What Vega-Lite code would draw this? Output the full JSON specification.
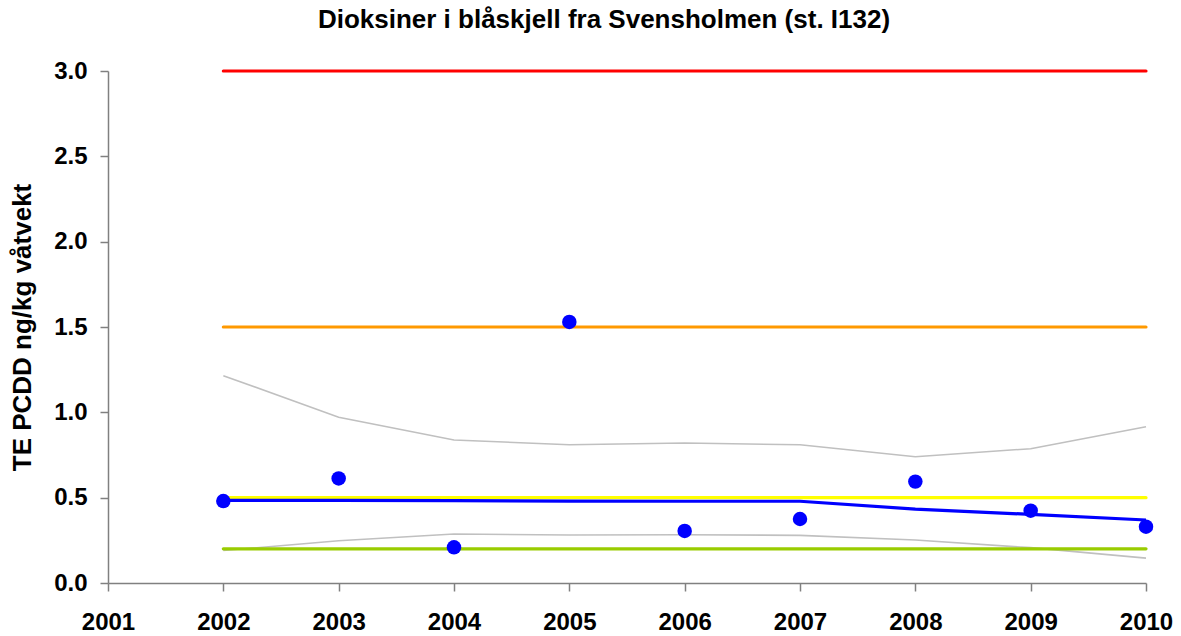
{
  "$schema": "https://vega.github.io/schema/vega-lite/v6.json",
  "autosize": "none",
  "width": 1038,
  "height": 512,
  "padding": {"left": 108, "top": 71, "right": 35, "bottom": 53},
  "background": "white",
  "config": {
    "view": {"stroke": null},
    "font": "Liberation Sans",
    "axis": {"grid": false, "domainColor": "#808080", "domainWidth": 1.5, "tickColor": "#808080", "tickWidth": 1.5, "tickSize": 8, "labelFont": "Liberation Sans", "labelFontWeight": "bold", "labelFontSize": 24, "labelColor": "#000000", "titleFont": "Liberation Sans", "titleFontWeight": "bold", "titleFontSize": 26, "titleColor": "#000000"}
  },
  "title": {
    "text": "Dioksiner i blåskjell fra Svensholmen (st. I132)",
    "font": "Liberation Sans",
    "fontSize": 26,
    "fontWeight": "bold",
    "color": "#000000",
    "anchor": "middle",
    "dx": -23,
    "offset": 26
  },
  "datasets": {
    "thresholds": [
      {"year": 2002, "value": 3.0, "class": "V"},
      {"year": 2010, "value": 3.0, "class": "V"},
      {"year": 2002, "value": 1.5, "class": "IV"},
      {"year": 2010, "value": 1.5, "class": "IV"},
      {"year": 2002, "value": 0.5, "class": "II"},
      {"year": 2010, "value": 0.5, "class": "II"},
      {"year": 2002, "value": 0.2, "class": "I"},
      {"year": 2010, "value": 0.2, "class": "I"}
    ],
    "bands": [
      {"year": 2002, "value": 1.215, "bound": "upper"},
      {"year": 2003, "value": 0.971, "bound": "upper"},
      {"year": 2004, "value": 0.838, "bound": "upper"},
      {"year": 2005, "value": 0.81, "bound": "upper"},
      {"year": 2006, "value": 0.82, "bound": "upper"},
      {"year": 2007, "value": 0.81, "bound": "upper"},
      {"year": 2008, "value": 0.74, "bound": "upper"},
      {"year": 2009, "value": 0.787, "bound": "upper"},
      {"year": 2010, "value": 0.916, "bound": "upper"},
      {"year": 2002, "value": 0.19, "bound": "lower"},
      {"year": 2003, "value": 0.248, "bound": "lower"},
      {"year": 2004, "value": 0.287, "bound": "lower"},
      {"year": 2005, "value": 0.281, "bound": "lower"},
      {"year": 2006, "value": 0.283, "bound": "lower"},
      {"year": 2007, "value": 0.279, "bound": "lower"},
      {"year": 2008, "value": 0.252, "bound": "lower"},
      {"year": 2009, "value": 0.207, "bound": "lower"},
      {"year": 2010, "value": 0.146, "bound": "lower"}
    ],
    "trend": [
      {"year": 2002, "value": 0.484},
      {"year": 2003, "value": 0.484},
      {"year": 2004, "value": 0.483},
      {"year": 2005, "value": 0.48},
      {"year": 2006, "value": 0.479},
      {"year": 2007, "value": 0.479},
      {"year": 2008, "value": 0.433},
      {"year": 2009, "value": 0.402},
      {"year": 2010, "value": 0.369}
    ],
    "points": [
      {"year": 2002, "value": 0.48},
      {"year": 2003, "value": 0.613},
      {"year": 2004, "value": 0.209},
      {"year": 2005, "value": 1.53},
      {"year": 2006, "value": 0.305},
      {"year": 2007, "value": 0.375},
      {"year": 2008, "value": 0.594},
      {"year": 2009, "value": 0.424},
      {"year": 2010, "value": 0.33}
    ]
  },
  "encoding": {
    "x": {
      "field": "year",
      "type": "quantitative",
      "scale": {"domain": [2001, 2010], "nice": false, "zero": false},
      "axis": {"values": [2001, 2002, 2003, 2004, 2005, 2006, 2007, 2008, 2009, 2010], "format": "d", "title": null, "labelPadding": 19, "labelFlush": false}
    },
    "y": {
      "field": "value",
      "type": "quantitative",
      "scale": {"domain": [0, 3], "nice": false},
      "axis": {"values": [0, 0.5, 1, 1.5, 2, 2.5, 3], "format": ".1f", "title": "TE PCDD ng/kg våtvekt", "labelPadding": 13, "titlePadding": 18}
    }
  },
  "layer": [
    {
      "data": {"name": "bands"},
      "mark": {"type": "line", "color": "#C0C0C0", "strokeWidth": 1.6},
      "encoding": {"detail": {"field": "bound"}}
    },
    {
      "data": {"name": "thresholds"},
      "mark": {"type": "line", "strokeWidth": 3.2, "strokeCap": "round"},
      "encoding": {
        "color": {"field": "class", "type": "nominal", "legend": null, "scale": {"domain": ["V", "IV", "II", "I"], "range": ["#FF0000", "#FF9900", "#FFFF00", "#99CC00"]}}
      }
    },
    {
      "data": {"name": "trend"},
      "mark": {"type": "line", "color": "#0000FF", "strokeWidth": 3.2}
    },
    {
      "data": {"name": "points"},
      "mark": {"type": "point", "filled": true, "color": "#0000FF", "opacity": 1, "size": 210}
    }
  ]
}
